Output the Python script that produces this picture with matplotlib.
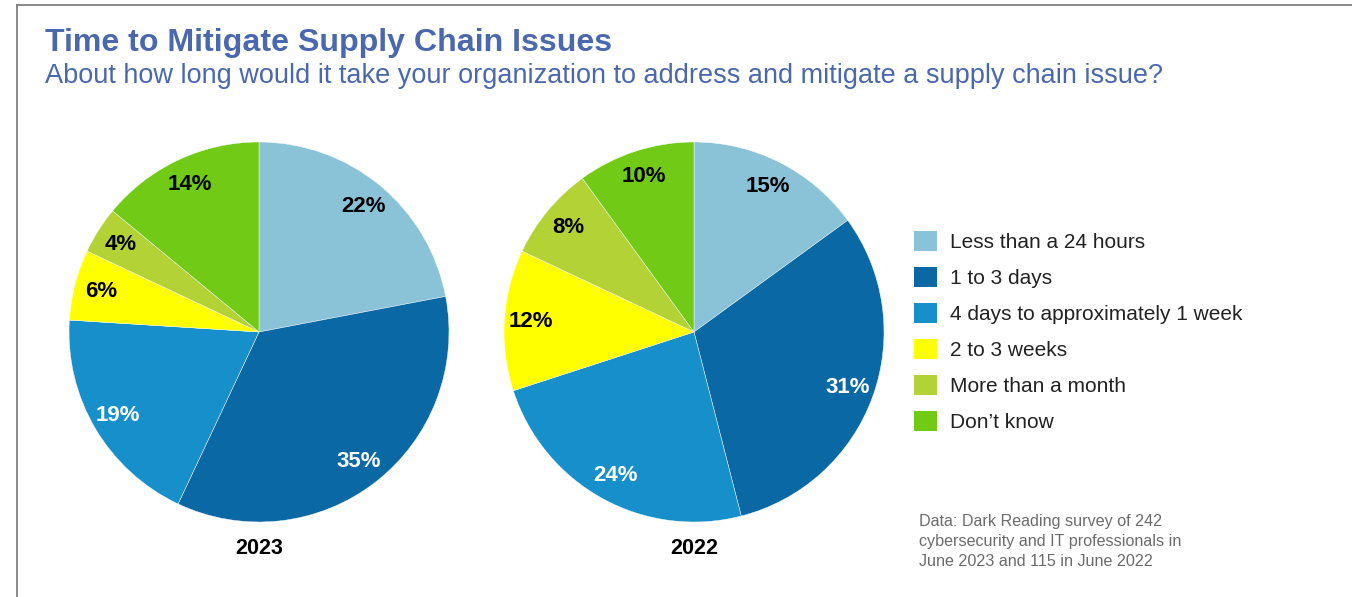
import matplotlib.pyplot as plt
from matplotlib.patches import Patch

plt.rcParams['font.family'] = ['Liberation Sans', 'DejaVu Sans']

categories = ['Less than a 24 hours', '1 to 3 days', '4 days to approximately 1 week',
              '2 to 3 weeks', 'More than a month', 'Don\u2019t know']
share_2023 = [22, 35, 19, 6, 4, 14]
share_2022 = [15, 31, 24, 12, 8, 10]
years = ['2023', '2022']

colors = ['#8AC2D8', '#0A68A4', '#168FCB', '#FFFF00', '#B2D235', '#70CA16']
label_colors = ['black', 'white', 'white', 'black', 'black', 'black']
blue = '#4A68AE'

W, H = 1352, 597
fig = plt.figure(figsize=(W / 100, H / 100), dpi=100)
ax = fig.add_axes([0, 0, 1, 1])

# frame edges (top and left)
ax.plot([17, W], [H - 4.5, H - 4.5], color='#777777', lw=1.2)
ax.plot([17, 17], [0, H - 4.5], color='#777777', lw=1.2)

ax.text(45, H - 51, 'Time to Mitigate Supply Chain Issues', fontsize=23.1,
        fontweight='bold', color=blue, va='baseline')
ax.text(45, H - 83, 'About how long would it take your organization to address '
        'and mitigate a supply chain issue?', fontsize=19.5, color=blue, va='baseline')

centers = [(259, H - 332), (694, H - 332)]
for vals, year, (cx, cy) in zip([share_2023, share_2022], years, centers):
    wedges, texts, autotexts = ax.pie(vals, colors=colors, startangle=90, counterclock=False,
                                      center=(cx, cy), radius=190, autopct='%.0f%%',
                                      pctdistance=0.86, frame=True,
                                      wedgeprops=dict(edgecolor='white', linewidth=0.3))
    for t, c in zip(autotexts, label_colors):
        t.set_color(c)
        t.set_fontsize(16)
        t.set_fontweight('bold')
    ax.text(cx, H - 548, year, fontsize=15.5, fontweight='bold', ha='center', va='center')

ax.set_xlim(0, W)
ax.set_ylim(0, H)
ax.set_aspect('equal')
ax.axis('off')

handles = [Patch(facecolor=c, edgecolor='none') for c in colors]
leg = ax.legend(handles, categories, loc='upper left', bbox_to_anchor=(914, H - 231),
                bbox_transform=ax.transData, frameon=False, fontsize=15,
                handlelength=1.1, handleheight=1.1, handletextpad=0.63,
                labelspacing=0.72, borderpad=0, borderaxespad=0)
for t in leg.get_texts():
    t.set_color('#222222')

ax.text(919, H - 514, 'Data: Dark Reading survey of 242\ncybersecurity and IT professionals in\n'
        'June 2023 and 115 in June 2022', fontsize=11.6, color='#6B6B6B',
        va='top', linespacing=1.42)

fig.savefig('out.png', dpi=100)
